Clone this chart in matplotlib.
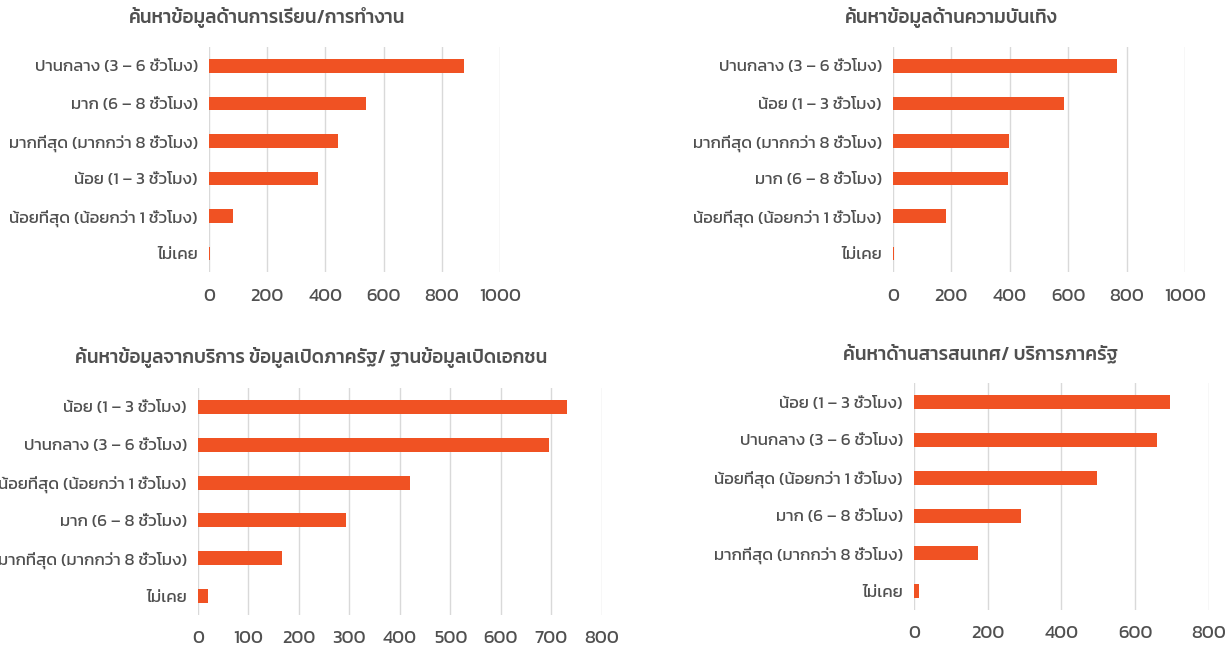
import matplotlib
matplotlib.use("Agg")
import matplotlib.pyplot as plt

plt.rcParams['font.family'] = ['Kanit', 'Prompt', 'Sarabun', 'DejaVu Sans']

# ข้อมูลแต่ละกราฟ (เรียงจากบนลงล่าง)
titles = [
    "ค้นหาข้อมูลด้านการเรียน/การทำงาน",
    "ค้นหาข้อมูลด้านความบันเทิง",
    "ค้นหาข้อมูลจากบริการ ข้อมูลเปิดภาครัฐ/ ฐานข้อมูลเปิดเอกชน",
    "ค้นหาด้านสารสนเทศ/ บริการภาครัฐ",
]

labels_study = ["ปานกลาง (3 – 6 ชั่วโมง)", "มาก (6 – 8 ชั่วโมง)", "มากที่สุด (มากกว่า 8 ชั่วโมง)",
                "น้อย (1 – 3 ชั่วโมง)", "น้อยที่สุด (น้อยกว่า 1 ชั่วโมง)", "ไม่เคย"]
values_study = [875, 540, 442, 376, 84, 4]

labels_fun = ["ปานกลาง (3 – 6 ชั่วโมง)", "น้อย (1 – 3 ชั่วโมง)", "มากที่สุด (มากกว่า 8 ชั่วโมง)",
              "มาก (6 – 8 ชั่วโมง)", "น้อยที่สุด (น้อยกว่า 1 ชั่วโมง)", "ไม่เคย"]
values_fun = [766, 587, 396, 392, 183, 5]

labels_open = ["น้อย (1 – 3 ชั่วโมง)", "ปานกลาง (3 – 6 ชั่วโมง)", "น้อยที่สุด (น้อยกว่า 1 ชั่วโมง)",
               "มาก (6 – 8 ชั่วโมง)", "มากที่สุด (มากกว่า 8 ชั่วโมง)", "ไม่เคย"]
values_open = [730, 695, 420, 293, 166, 20]

labels_gov = ["น้อย (1 – 3 ชั่วโมง)", "ปานกลาง (3 – 6 ชั่วโมง)", "น้อยที่สุด (น้อยกว่า 1 ชั่วโมง)",
              "มาก (6 – 8 ชั่วโมง)", "มากที่สุด (มากกว่า 8 ชั่วโมง)", "ไม่เคย"]
values_gov = [695, 660, 497, 289, 174, 13]

xticks_1000 = [0, 200, 400, 600, 800, 1000]
xticks_800_100 = [0, 100, 200, 300, 400, 500, 600, 700, 800]
xticks_800_200 = [0, 200, 400, 600, 800]

bar_color = '#F05223'
text_color = '#505050'
grid_color = '#D9D9D9'

fig = plt.figure(figsize=(12.25, 6.56), dpi=100)

# ตำแหน่งกราฟ [left, bottom, width, height] และตำแหน่งชื่อกราฟ
panels = [
    ([0.1706, 0.585, 0.2376, 0.343], labels_study, values_study, xticks_1000, (267, 17)),
    ([0.7290, 0.585, 0.2384, 0.343], labels_fun, values_fun, xticks_1000, (951, 17)),
    ([0.1616, 0.0625, 0.3298, 0.346], labels_open, values_open, xticks_800_100, (311, 358)),
    ([0.7461, 0.0700, 0.2408, 0.346], labels_gov, values_gov, xticks_800_200, (980, 354)),
]

for (rect, labels, values, xticks, tpos), title in zip(panels, titles):
    ax = fig.add_axes(rect)
    y = list(range(len(labels)))
    ax.barh(y, values, height=0.37, color=bar_color, zorder=3)
    ax.set_yticks(y)
    ax.set_yticklabels(labels)
    ax.set_ylim(len(labels) - 0.5, -0.5)
    ax.set_xlim(xticks[0], xticks[-1])
    ax.set_xticks(xticks)
    ax.grid(axis='x', color=grid_color, linewidth=1, zorder=0)
    ax.tick_params(length=0, labelcolor=text_color)
    ax.tick_params(axis='x', pad=11, labelsize=13.3)
    ax.tick_params(axis='y', pad=8, labelsize=12.2)
    for s in ax.spines.values():
        s.set_visible(False)
    fig.text(tpos[0] / 1225, 1 - tpos[1] / 656, title, ha='center', va='center',
             fontsize=13.5, color=text_color, fontweight='medium')

fig.savefig("out.png")
